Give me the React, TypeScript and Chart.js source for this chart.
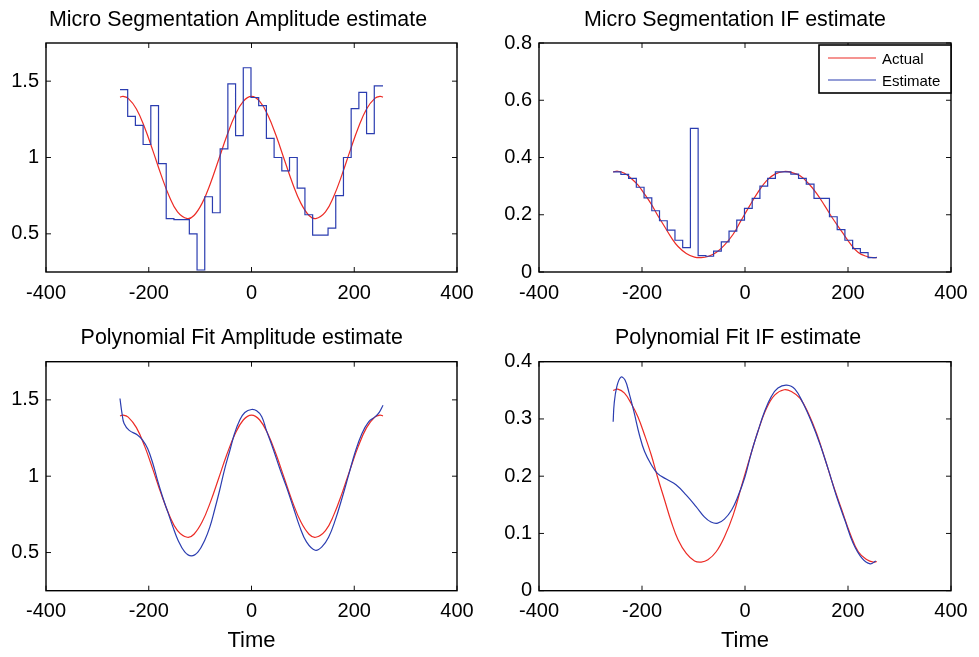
import React, { useEffect, useRef } from 'react';
import { Chart, registerables } from 'chart.js';

Chart.register(...registerables);

const FONT = "'Liberation Sans', Arial, Helvetica, sans-serif";
const RED = '#ec2b25';
const BLUE = '#2b3db0';

// ---- tick labels ----
const xTicks = [-400, -200, 0, 200, 400];
const ampTicks = [0.5, 1, 1.5];
const ifTopTicks = [0, 0.2, 0.4, 0.6, 0.8];
const ifBottomTicks = [0, 0.1, 0.2, 0.3, 0.4];

// ---- titles ----
const titleMsAmp = 'Micro Segmentation Amplitude estimate';
const titleMsIf = 'Micro Segmentation IF estimate';
const titlePfAmp = 'Polynomial Fit Amplitude estimate';
const titlePfIf = 'Polynomial Fit IF estimate';
const xAxisLabel = 'Time';
const legendLabels = ['Actual', 'Estimate'];

// ---- actual amplitude (red) ----
const ampActualT = [-256, -250, -240, -224, -208, -192, -176, -160, -144, -125, -112, -96, -80, -64, -48, -32, -16, 0, 16, 32, 48, 64, 80, 96, 112, 125, 144, 160, 176, 192, 208, 224, 240, 250, 256];
const ampActualV = [1.395, 1.4, 1.387, 1.318, 1.197, 1.045, 0.886, 0.745, 0.644, 0.6, 0.62, 0.701, 0.83, 0.985, 1.142, 1.277, 1.368, 1.4, 1.368, 1.277, 1.142, 0.985, 0.83, 0.701, 0.62, 0.6, 0.644, 0.745, 0.886, 1.045, 1.197, 1.318, 1.387, 1.4, 1.395];

// ---- micro segmentation segment starts (last = end) ----
const segT = [-256, -241, -226, -211, -196, -181, -166, -151, -136, -121, -106, -91, -76, -61, -46, -31, -16, -1, 14, 29, 44, 59, 74, 89, 104, 119, 134, 149, 164, 179, 194, 209, 224, 239, 256];
const msAmpV = [1.445, 1.27, 1.21, 1.085, 1.34, 0.96, 0.6, 0.593, 0.593, 0.5, 0.263, 0.743, 0.638, 1.057, 1.482, 1.143, 1.588, 1.393, 1.34, 1.125, 1.0, 0.912, 1.0, 0.8, 0.625, 0.491, 0.491, 0.537, 0.75, 1.0, 1.32, 1.426, 1.156, 1.469, 1.469];
const msIfV = [0.35, 0.341, 0.327, 0.296, 0.259, 0.214, 0.179, 0.146, 0.111, 0.0855, 0.502, 0.057, 0.055, 0.073, 0.105, 0.1425, 0.181, 0.222, 0.257, 0.3, 0.327, 0.35, 0.35, 0.342, 0.327, 0.307, 0.257, 0.257, 0.193, 0.148, 0.111, 0.082, 0.068, 0.05, 0.05];

// ---- actual IF (red) ----
const ifActualT = [-256, -247, -234, -221, -208, -195, -182, -170, -156, -143, -130, -114, -98, -85, -72, -56, -40, -23, -7, 9, 25, 42, 58, 76, 90, 107, 123, 139, 155, 171, 188, 204, 220, 237, 249, 256];
const ifActualV = [0.35, 0.352, 0.345, 0.327, 0.304, 0.272, 0.237, 0.199, 0.158, 0.12, 0.089, 0.065, 0.052, 0.05, 0.054, 0.068, 0.094, 0.132, 0.182, 0.231, 0.278, 0.319, 0.342, 0.351, 0.348, 0.336, 0.31, 0.275, 0.231, 0.185, 0.141, 0.1, 0.068, 0.054, 0.05, 0.051];

// ---- polynomial fit amplitude (blue) ----
const pfAmpT = [-256, -252, -248, -238, -222, -212, -202, -192, -183, -173, -163, -153, -143, -130, -117, -104, -91, -81, -72, -62, -52, -42, -33, -23, -13, 0, 10, 20, 29, 42, 55, 68, 81, 94, 107, 124, 137, 150, 163, 176, 189, 202, 215, 228, 241, 249, 256];
const pfAmpV = [1.509, 1.41, 1.345, 1.3, 1.27, 1.236, 1.18, 1.083, 0.974, 0.864, 0.766, 0.668, 0.581, 0.504, 0.478, 0.504, 0.581, 0.668, 0.777, 0.908, 1.05, 1.17, 1.28, 1.367, 1.417, 1.437, 1.428, 1.39, 1.3, 1.18, 1.05, 0.93, 0.8, 0.668, 0.57, 0.515, 0.537, 0.6, 0.712, 0.854, 1.007, 1.16, 1.28, 1.356, 1.39, 1.42, 1.465];

// ---- polynomial fit IF (blue) ----
const pfIfT = [-256, -254, -249, -241, -233, -225, -215, -205, -195, -182, -170, -153, -134, -114, -95, -79, -66, -53, -40, -26, -14, 0, 12, 25, 38, 51, 64, 81, 97, 113, 129, 146, 162, 178, 194, 210, 227, 243, 254];
const pfIfV = [0.295, 0.327, 0.356, 0.373, 0.368, 0.345, 0.31, 0.272, 0.243, 0.22, 0.205, 0.195, 0.185, 0.167, 0.147, 0.129, 0.12, 0.118, 0.125, 0.141, 0.164, 0.199, 0.24, 0.278, 0.313, 0.339, 0.354, 0.359, 0.352, 0.327, 0.295, 0.255, 0.211, 0.164, 0.123, 0.083, 0.057, 0.047, 0.052];

const zip = (xs: number[], ys: number[]) => xs.map((x, i) => ({ x, y: ys[i] }));

const smooth = (label: string, t: number[], v: number[], color: string, order: number) => ({
  label,
  data: zip(t, v),
  borderColor: color,
  borderWidth: 1.2,
  pointRadius: 0,
  tension: 0.4,
  fill: false,
  order,
});
const steps = (label: string, t: number[], v: number[], color: string, order: number) => ({
  label,
  data: zip(t, v),
  borderColor: color,
  borderWidth: 1.2,
  pointRadius: 0,
  stepped: true,
  fill: false,
  order,
});

const boxPlugin = {
  id: 'matlabBox',
  afterDraw(chart: any, _args: any, opts: any) {
    const { ctx, chartArea: a, scales } = chart;
    const L = 5;
    ctx.save();
    // title
    if (opts && opts.title) {
      ctx.font = `21.4px ${FONT}`;
      ctx.fillStyle = '#000';
      ctx.textAlign = 'center';
      ctx.textBaseline = 'middle';
      ctx.fillText(opts.title, opts.titleX, opts.titleY);
    }
    ctx.strokeStyle = '#111';
    ctx.lineWidth = 1;
    ctx.beginPath();
    for (const t of scales.x.ticks) {
      const px = scales.x.getPixelForValue(t.value);
      ctx.moveTo(px, a.bottom);
      ctx.lineTo(px, a.bottom - L);
      ctx.moveTo(px, a.top);
      ctx.lineTo(px, a.top + L);
    }
    for (const t of scales.y.ticks) {
      const py = scales.y.getPixelForValue(t.value);
      ctx.moveTo(a.left, py);
      ctx.lineTo(a.left + L, py);
      ctx.moveTo(a.right, py);
      ctx.lineTo(a.right - L, py);
    }
    ctx.stroke();
    ctx.lineWidth = 1.4;
    ctx.strokeStyle = '#000';
    ctx.strokeRect(a.left, a.top, a.right - a.left, a.bottom - a.top);
    if (opts && opts.legend) {
      const bx = a.right - 132;
      const by = a.top + 2;
      const bw = 132;
      const bh = 48;
      ctx.fillStyle = '#fff';
      ctx.fillRect(bx, by, bw, bh);
      ctx.lineWidth = 1.6;
      ctx.strokeRect(bx, by, bw, bh);
      const items = [
        { text: legendLabels[0], color: RED, y: by + 13 },
        { text: legendLabels[1], color: BLUE, y: by + 35 },
      ];
      ctx.font = `15px ${FONT}`;
      ctx.textBaseline = 'middle';
      ctx.textAlign = 'left';
      for (const it of items) {
        ctx.strokeStyle = it.color;
        ctx.lineWidth = 1.2;
        ctx.beginPath();
        ctx.moveTo(bx + 9, it.y);
        ctx.lineTo(bx + 57, it.y);
        ctx.stroke();
        ctx.fillStyle = '#000';
        ctx.fillText(it.text, bx + 63, it.y + 2);
      }
    }
    ctx.restore();
  },
};

type Panel = {
  left: number;
  top: number;
  w: number;
  h: number;
  title: string;
  titleX: number;
  titleY: number;
  padTop: number;
  yAxisW: number;
  xAxisH: number;
  padRight: number;
  yMin: number;
  yMax: number;
  yTicks: number[];
  datasets: any[];
  legend: boolean;
  xTitle: boolean;
};

const panels: Panel[] = [
  {
    left: 0, top: 0, w: 490, h: 310, title: titleMsAmp, titleX: 238, titleY: 20, padTop: 43,
    yAxisW: 46, xAxisH: 38, padRight: 33, yMin: 0.25, yMax: 1.75, yTicks: ampTicks,
    datasets: [smooth('Actual', ampActualT, ampActualV, RED, 1), steps('Estimate', segT, msAmpV, BLUE, 0)],
    legend: false, xTitle: false,
  },
  {
    left: 490, top: 0, w: 489, h: 310, title: titleMsIf, titleX: 245, titleY: 20, padTop: 43,
    yAxisW: 49, xAxisH: 38, padRight: 28, yMin: 0, yMax: 0.8, yTicks: ifTopTicks,
    datasets: [smooth('Actual', ifActualT, ifActualV, RED, 1), steps('Estimate', segT, msIfV, BLUE, 0)],
    legend: true, xTitle: false,
  },
  {
    left: 0, top: 310, w: 490, h: 347, title: titlePfAmp, titleX: 241.7, titleY: 28, padTop: 51.7,
    yAxisW: 46, xAxisH: 66.3, padRight: 33, yMin: 0.25, yMax: 1.75, yTicks: ampTicks,
    datasets: [smooth('Actual', ampActualT, ampActualV, RED, 1), smooth('Estimate', pfAmpT, pfAmpV, BLUE, 0)],
    legend: false, xTitle: true,
  },
  {
    left: 490, top: 310, w: 489, h: 347, title: titlePfIf, titleX: 248, titleY: 28, padTop: 51.7,
    yAxisW: 49, xAxisH: 66.3, padRight: 28, yMin: 0, yMax: 0.4, yTicks: ifBottomTicks,
    datasets: [smooth('Actual', ifActualT, ifActualV, RED, 1), smooth('Estimate', pfIfT, pfIfV, BLUE, 0)],
    legend: false, xTitle: true,
  },
];

function PanelChart({ p }: { p: Panel }) {
  const ref = useRef<HTMLCanvasElement>(null);
  useEffect(() => {
    if (!ref.current) return;
    const tickFont = { family: FONT, size: 20 };
    const chart = new Chart(ref.current, {
      type: 'line',
      data: { datasets: p.datasets },
      options: {
        animation: false,
        responsive: false,
        events: [],
        layout: { padding: { left: 0, right: p.padRight, top: p.padTop, bottom: 0 } },
        plugins: {
          legend: { display: false },
          tooltip: { enabled: false },
          title: { display: false },
          matlabBox: { legend: p.legend, title: p.title, titleX: p.titleX, titleY: p.titleY },
        } as any,
        scales: {
          x: {
            type: 'linear',
            min: -400,
            max: 400,
            afterBuildTicks: (s: any) => {
              s.ticks = xTicks.map((v) => ({ value: v }));
            },
            afterFit: (s: any) => {
              s.height = p.xAxisH;
            },
            grid: { display: false, drawTicks: false },
            border: { display: false },
            ticks: {
              color: '#000',
              font: tickFont,
              padding: 9,
              maxRotation: 0,
              autoSkip: false,
              callback: (v: any) => String(v),
            },
            title: {
              display: p.xTitle,
              text: xAxisLabel,
              color: '#000',
              font: { family: FONT, size: 22 },
              padding: { top: 0, bottom: 2.5 },
            },
          },
          y: {
            type: 'linear',
            min: p.yMin,
            max: p.yMax,
            afterBuildTicks: (s: any) => {
              s.ticks = p.yTicks.map((v) => ({ value: v }));
            },
            afterFit: (s: any) => {
              s.width = p.yAxisW;
            },
            grid: { display: false, drawTicks: false },
            border: { display: false },
            ticks: {
              color: '#000',
              font: tickFont,
              padding: 7,
              autoSkip: false,
              callback: (v: any) => String(v),
            },
          },
        },
      } as any,
      plugins: [boxPlugin as any],
    });
    return () => chart.destroy();
  }, []);
  return (
    <canvas
      ref={ref}
      width={p.w}
      height={p.h}
      style={{ position: 'absolute', left: p.left, top: p.top, width: p.w, height: p.h }}
    />
  );
}

export default function App() {
  return (
    <div style={{ position: 'absolute', left: 0, top: 0, width: 979, height: 657, background: '#fff' }}>
      {panels.map((p, i) => (
        <PanelChart key={i} p={p} />
      ))}
    </div>
  );
}
